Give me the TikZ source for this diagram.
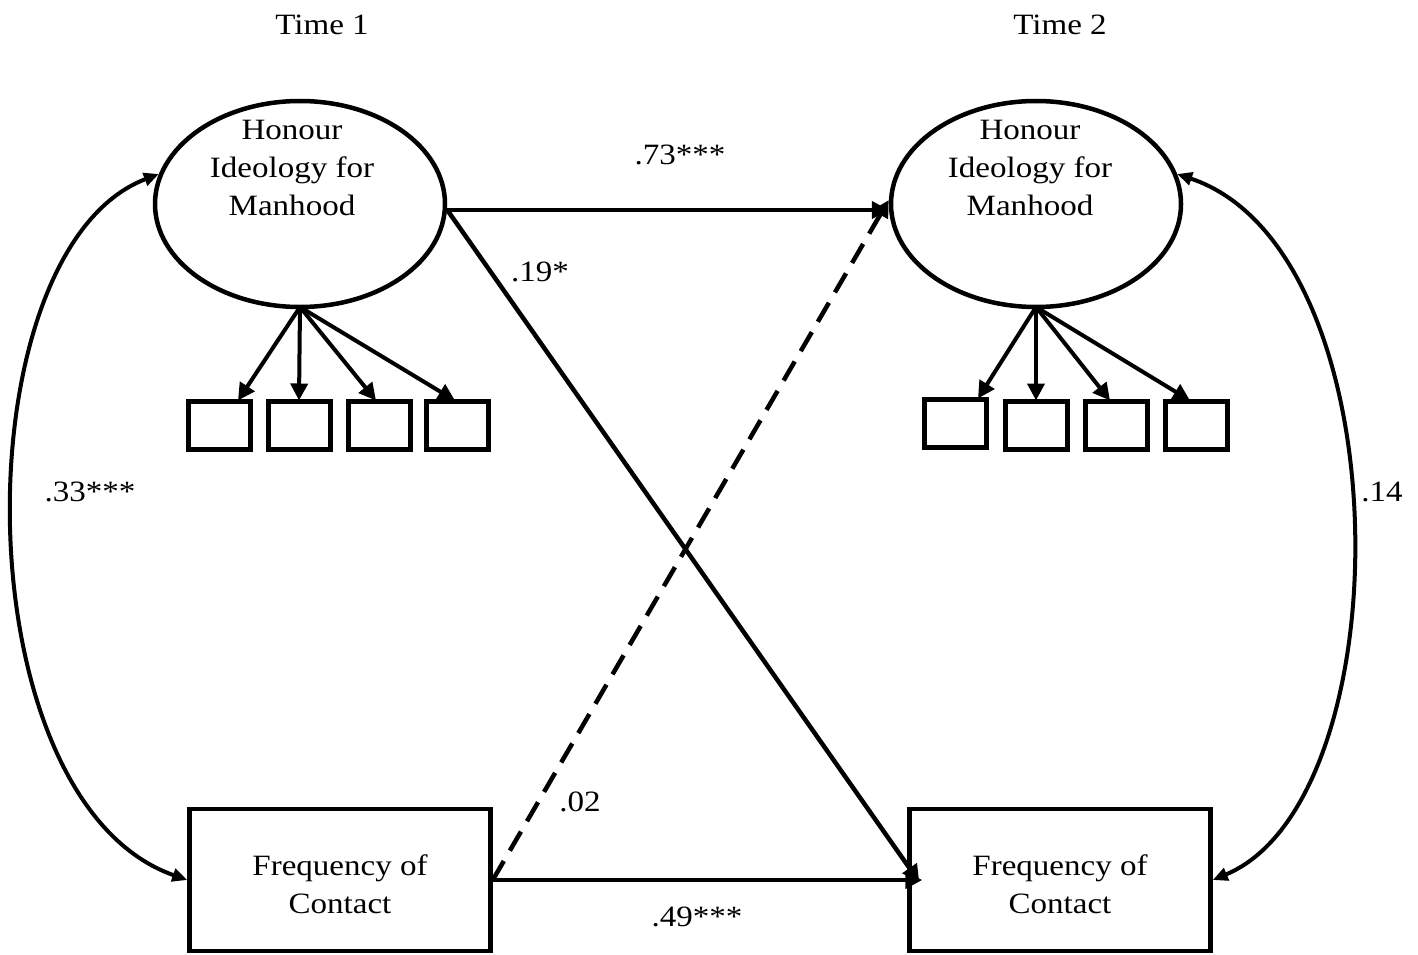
\documentclass[tikz,border=0pt]{standalone}
\usepackage{fontspec}
\setmainfont{Liberation Serif}[FakeStretch=1.12]
\usetikzlibrary{shapes.geometric,arrows.meta}
\begin{document}
\begin{tikzpicture}[x=1pt,y=-1pt,
  every node/.style={font=\fontsize{29.5}{38}\selectfont},
  latent/.style={ellipse,draw,line width=4.5pt,minimum width=290pt,minimum height=206pt,inner sep=0pt},
  indic/.style={rectangle,draw,line width=5pt,minimum width=62pt,minimum height=48pt,inner sep=0pt},
  obs/.style={rectangle,draw,line width=4.5pt,minimum width=301pt,minimum height=142pt,inner sep=0pt},
  lbl/.style={align=center,inner sep=0pt},
  path/.style={line width=4.5pt,-{Triangle[length=17pt,width=17pt]}},
  load/.style={line width=4pt,-{Triangle[length=17pt,width=17pt]}},
  cov/.style={line width=4pt,{Triangle[length=15pt,width=13pt]}-{Triangle[length=15pt,width=13pt]}}]
\useasboundingbox (0,0) rectangle (1418,955);
% headings
\node[lbl] (t1) at (322,25) {Time 1};
\node[lbl] (t2) at (1060,25) {Time 2};
% latent variables
\node[latent] (E1) at (300,204) {};
\node[latent] (E2) at (1036,204) {};
\node[lbl] (E1t) at (292,168) {Honour\\Ideology for\\Manhood};
\node[lbl] (E2t) at (1030,168) {Honour\\Ideology for\\Manhood};
% indicators
\node[indic] (a1) at (219,425) {};
\node[indic] (a2) at (299,425) {};
\node[indic] (a3) at (379,425) {};
\node[indic] (a4) at (457,425) {};
\node[indic] (c1) at (955,423) {};
\node[indic] (c2) at (1036,425) {};
\node[indic] (c3) at (1116,425) {};
\node[indic] (c4) at (1196,425) {};
% observed
\node[obs] (F1) at (340,880) {};
\node[obs] (F2) at (1060,880) {};
\node[lbl] (F1t) at (340,884) {Frequency of\\Contact};
\node[lbl] (F2t) at (1060,884) {Frequency of\\Contact};
% loadings
\coordinate (o1) at (300,307);
\coordinate (o2) at (1036,307);
\draw[load] (o1) -- ([xshift=19pt,yshift=-2pt]a1.north);
\draw[load] (o1) -- ([yshift=-2pt]a2.north);
\draw[load] (o1) -- ([xshift=-3pt,yshift=-2pt]a3.north);
\draw[load] (o1) -- ([xshift=-2pt,yshift=-2pt]a4.north);
\draw[load] (o2) -- ([xshift=23pt,yshift=-2pt]c1.north);
\draw[load] (o2) -- ([yshift=-2pt]c2.north);
\draw[load] (o2) -- ([xshift=-6pt,yshift=-2pt]c3.north);
\draw[load] (o2) -- ([xshift=-6pt,yshift=-2pt]c4.north);
% structural paths
\draw[path] ([yshift=-6pt]E1.east) -- ([yshift=-6pt]E2.west);
\draw[path] ([yshift=-6pt]E1.east) -- ([xshift=12pt,yshift=-2pt]F2.west);
\draw[path,dashed,dash pattern=on 22pt off 12pt] (F1.east) -- ([yshift=4pt]E2.west);
\draw[path] (F1.east) -- ([xshift=15pt]F2.west);
% covariances
\draw[cov] (E1.168) .. controls (-40,250) and (-40,800) .. (F1.west);
\draw[cov] (E2.12) .. controls (1404,250) and (1404,800) .. (F2.east);
% coefficients
\node[lbl] (l73) at (680,155) {.73***};
\node[lbl] (l19) at (540,272) {.19*};
\node[lbl] (l02) at (580,802) {.02};
\node[lbl] (l49) at (697,917) {.49***};
\node[lbl] (l33) at (90,492) {.33***};
\node[lbl] (l14) at (1382,492) {.14};
\end{tikzpicture}
\end{document}
